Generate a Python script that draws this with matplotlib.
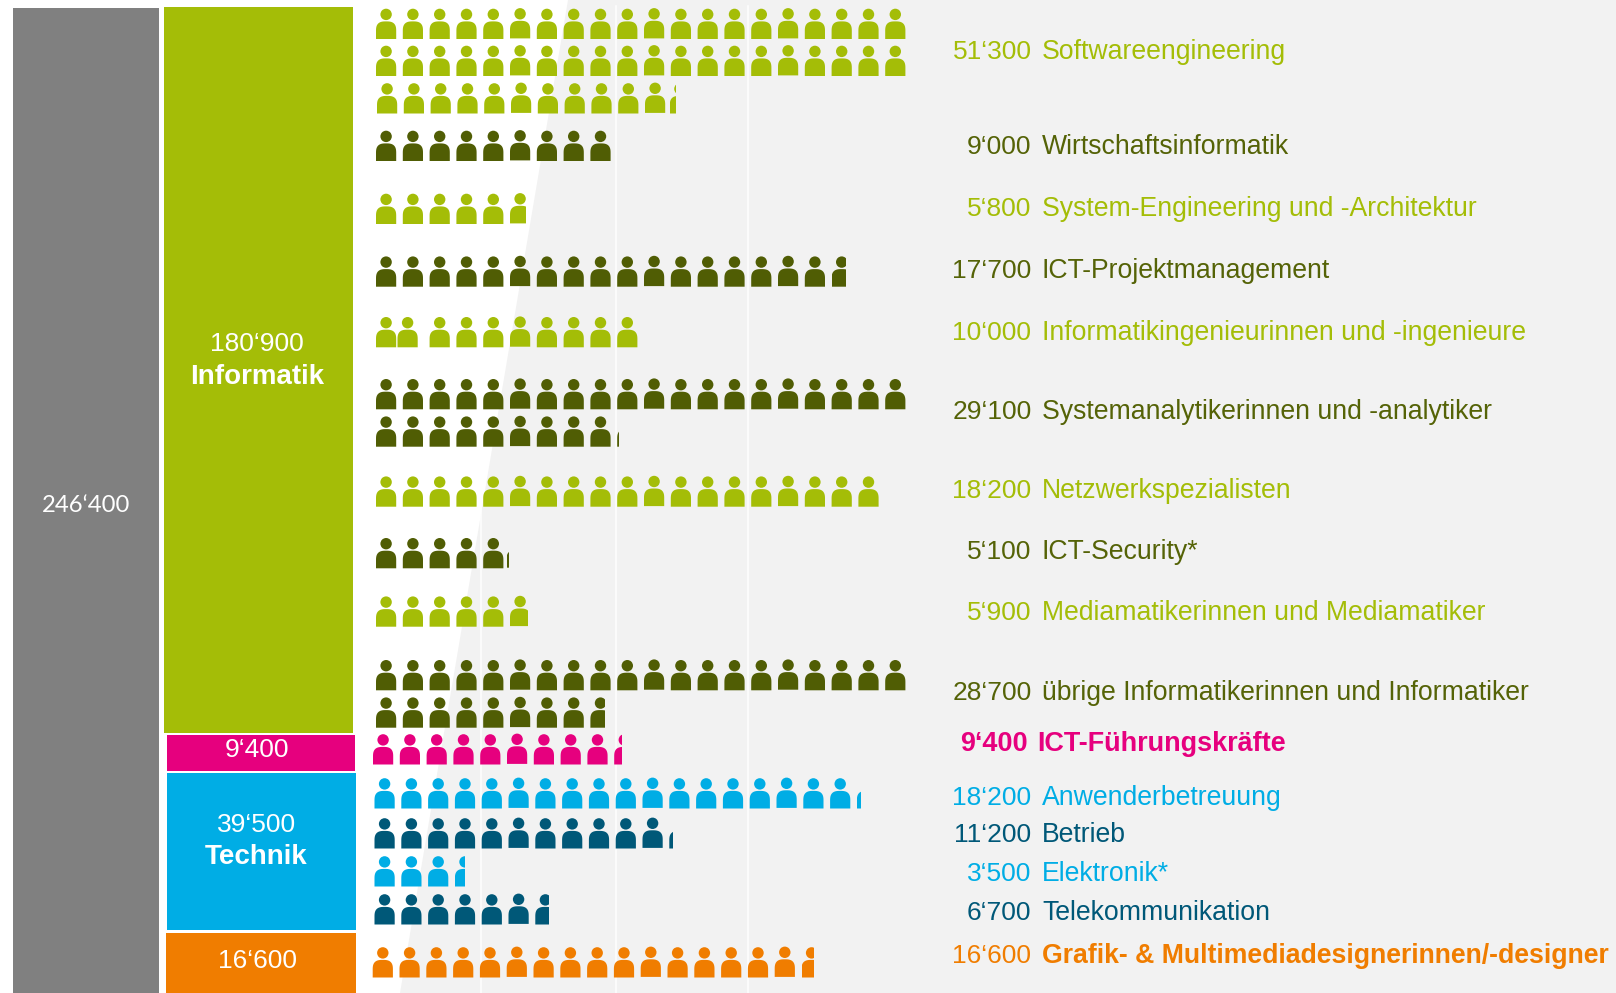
import numpy as np
import matplotlib
matplotlib.use('Agg')
import matplotlib.pyplot as plt
from matplotlib.patches import Circle, Polygon, Rectangle

plt.rcParams['font.family'] = ['Liberation Sans', 'DejaVu Sans']

# occupations, top to bottom
names = ['Softwareengineering', 'Wirtschaftsinformatik', 'System-Engineering und -Architektur',
         'ICT-Projektmanagement', 'Informatikingenieurinnen und -ingenieure',
         'Systemanalytikerinnen und -analytiker', 'Netzwerkspezialisten', 'ICT-Security*',
         'Mediamatikerinnen und Mediamatiker', 'übrige Informatikerinnen und Informatiker',
         'ICT-Führungskräfte', 'Anwenderbetreuung', 'Betrieb', 'Elektronik*', 'Telekommunikation',
         'Grafik- & Multimediadesignerinnen/-designer']
values = [51300, 9000, 5800, 17700, 10000, 29100, 18200, 5100, 5900, 28700,
          9400, 18200, 11200, 3500, 6700, 16600]
# number of person icons as drawn (one icon is about 1000, Netzwerk has one more)
icons = [51.3, 9.0, 5.8, 17.7, 10.0, 29.1, 19.0, 5.1, 5.9, 28.7,
         9.4, 18.2, 11.2, 3.5, 6.7, 16.6]

group_values = [180900, 9400, 39500, 16600]
group_names = ['Informatik', '', 'Technik', '']
total = 246400

# colours
GREEN = '#a4bd07'
DARK = '#505d04'
PINK = '#e6007e'
CYAN = '#00ade5'
TEAL = '#005878'
ORANGE = '#f07d00'
colors = [GREEN, DARK, GREEN, DARK, GREEN, DARK, GREEN, DARK, GREEN, DARK,
          PINK, CYAN, TEAL, CYAN, TEAL, ORANGE]
text_colors = [GREEN, '#556307', GREEN, '#556307', GREEN, '#556307', GREEN, '#556307', GREEN, '#556307',
               PINK, CYAN, TEAL, CYAN, TEAL, ORANGE]

# layout in pixels of the original picture
row_bottoms = [[39, 76, 113.5], [161], [224], [286.7], [347.3], [409.3, 446.7], [506.7], [568.3],
               [626.7], [690.3, 727.7], [764.5], [808.5], [848.5], [886.5], [924.5], [977.5]]
row_starts = [[376, 376, 377], [376], [376], [376], [376], [376, 376], [376], [376],
              [376], [376, 376], [373], [374.5], [374.5], [374.5], [374.5], [372.7]]
# (occupation, icon) that sit off the regular spacing
icon_nudge = {(4, 1): -5.3, (7, 5): -3.5, (0, 51): -2}
baselines = [59.3, 154.3, 216, 277.7, 340, 419.3, 498.3, 559.3, 620, 700.5,
             751, 805, 842.5, 881, 920, 962.7]
group_boxes = [(164, 7, 353, 733), (166.5, 735, 355, 770.5), (166.5, 773, 356, 930), (166, 933, 356, 993)]
group_colors = [GREEN, PINK, CYAN, ORANGE]
group_text_y = [(351, 384), (757, None), (832, 864), (968, None)]
group_text_x = [257, 256.5, 256.5, 257]
grid_x = [480.7, 615.7, 747.5]

PITCH = 26.8
BODY_W = 20.2
BODY_H = 17.6
HEAD_R = 5.7
PER_ROW = 20


def fmt(v):
    return f"{v // 1000}\u2018{v % 1000:03d}"


def draw_person(ax, x, bottom, color, frac=1.0):
    # one person icon: round head, dome shaped body, cut off on the right for a part icon
    cx = x + BODY_W / 2
    t = np.linspace(np.pi, 0, 60)
    ry = 10
    top = bottom - BODY_H
    # a bit fuller than a plain half ellipse
    xs = np.r_[x, cx + BODY_W / 2 * np.sign(np.cos(t)) * np.abs(np.cos(t)) ** 0.7, x + BODY_W]
    ys = np.r_[bottom, top + ry - ry * np.sin(t) ** 0.7, bottom]
    body = Polygon(np.c_[xs, ys], closed=True, fc=color, ec='none', zorder=3)
    head = Circle((cx, bottom - 24.6), HEAD_R, fc=color, ec='none', zorder=3)
    ax.add_patch(body)
    ax.add_patch(head)
    if frac < 1:
        clip = Rectangle((x, bottom - 40), BODY_W * frac, 50, transform=ax.transData)
        body.set_clip_path(clip)
        head.set_clip_path(clip)


fig = plt.figure(figsize=(16.16, 9.93), dpi=100)
ax = fig.add_axes([0, 0, 1, 1])
ax.set_xlim(0, 1616)
ax.set_ylim(993, 0)
ax.axis('off')

# light background with slanted left edge, white guide lines
ax.add_patch(Polygon([(568, 0), (1616, 0), (1616, 993), (400, 993)], fc='#f2f2f2', ec='none', zorder=0))
for gx in grid_x:
    ax.plot([gx, gx], [6, 993], color='white', lw=1.1, zorder=1)

# total bar
ax.add_patch(Rectangle((13, 8), 146, 985, fc='#808080', ec='none', zorder=2))
ax.text(86.5, 506, fmt(total), color='white', fontsize=17.2, family=['Lato', 'DejaVu Sans'],
        ha='center', va='center', zorder=4)

# group bars
for box, col, v, name, ty, tx in zip(group_boxes, group_colors, group_values, group_names, group_text_y, group_text_x):
    ax.add_patch(Rectangle((box[0], box[1]), box[2] - box[0], box[3] - box[1], fc=col, ec='none', zorder=2))
    ax.text(tx, ty[0], fmt(v), color='white', fontsize=19, ha='center', va='baseline', zorder=4)
    if name:
        ax.text(tx, ty[1], name, color='white', fontsize=20, fontweight='bold',
                ha='center', va='baseline', zorder=4)

# person icons
for k, n in enumerate(icons):
    whole = int(n)
    frac = round(n - whole, 2)
    count = whole + (1 if frac > 0 else 0)
    for i in range(count):
        row = i // PER_ROW
        col = i % PER_ROW
        x = row_starts[k][row] + col * PITCH + icon_nudge.get((k, i), 0)
        bottom = row_bottoms[k][row]
        if col % 5 == 0 and col > 0:
            bottom -= 0.6
        draw_person(ax, x, bottom, colors[k], frac if i == whole else 1.0)

# labels on the right
for k, name in enumerate(names):
    bold = name == 'ICT-Führungskräfte'
    label_bold = bold or name.startswith('Grafik')
    num_x = 1028 if bold else 1031.5
    lab_x = 1037.5 if bold else 1042
    size = 19.45 if bold else (19.2 if label_bold else 19.15)
    ax.text(num_x, baselines[k], fmt(values[k]), color=text_colors[k], fontsize=19 if not bold else 19.45,
            fontweight='bold' if bold else 'normal', ha='right', va='baseline', zorder=4)
    ax.text(lab_x, baselines[k], name, color=text_colors[k], fontsize=size,
            fontweight='bold' if label_bold else 'normal', ha='left', va='baseline', zorder=4)

fig.savefig('out.png', dpi=100)
